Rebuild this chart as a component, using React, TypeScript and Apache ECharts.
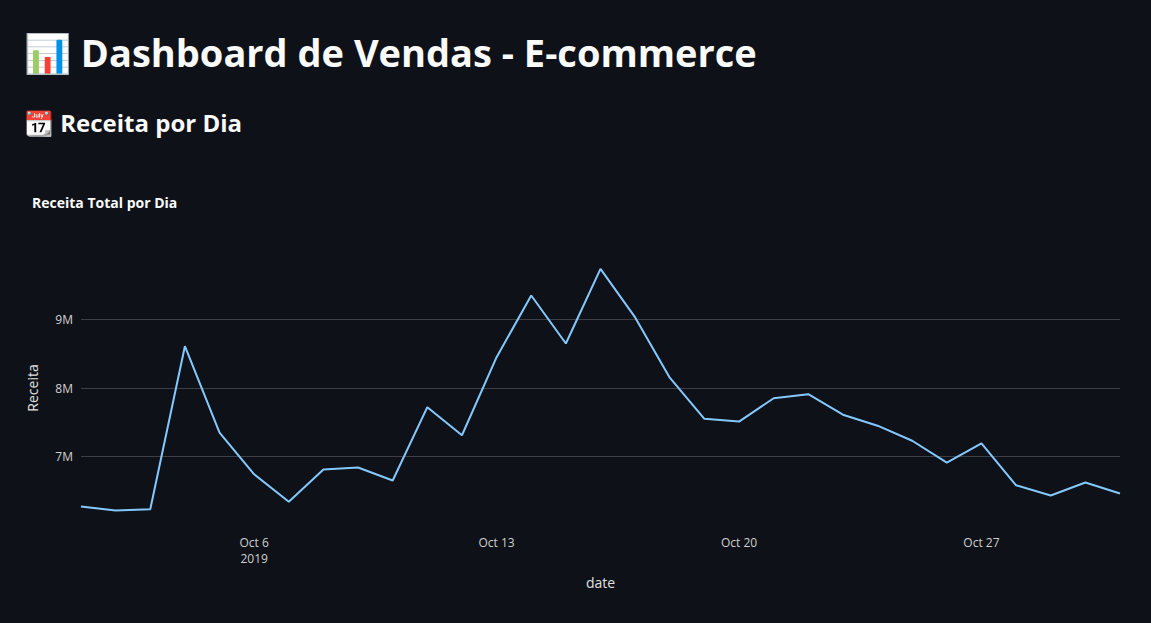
import React, { useEffect, useRef } from 'react';
import * as echarts from 'echarts';

const dates = Array.from({ length: 31 }, (_, i) => `2019-10-${String(i + 1).padStart(2, '0')}`);
const receita = [
  6.27, 6.21, 6.23, 8.61, 7.35, 6.74, 6.34, 6.81, 6.84, 6.65, 7.72, 7.31, 8.45, 9.35, 8.65, 9.74,
  9.03, 8.15, 7.55, 7.51, 7.85, 7.91, 7.61, 7.45, 7.23, 6.91, 7.19, 6.58, 6.43, 6.62, 6.46,
].map(v => v * 1e6);
const tickDays = [6, 13, 20, 27];

const FONT = '"Open Sans", "Noto Sans", sans-serif';

function RevenueChart() {
  const ref = useRef<HTMLDivElement>(null);

  useEffect(() => {
    if (!ref.current) return;
    const chart = echarts.init(ref.current, null, { renderer: 'svg' });
    const grid = 'rgba(250,250,250,0.2)';
    chart.setOption({
      animation: false,
      backgroundColor: 'transparent',
      textStyle: { fontFamily: FONT },
      title: {
        text: 'Receita Total por Dia',
        left: 27, top: 20,
        textStyle: { color: '#fafafa', fontSize: 14, fontWeight: 'bold', fontFamily: FONT },
      },
      grid: { left: 81, right: 31, top: 81, bottom: 98 },
      xAxis: {
        type: 'category',
        data: dates,
        boundaryGap: false,
        name: 'date',
        nameLocation: 'middle',
        nameGap: 50,
        nameTextStyle: { color: '#e0e0e0', fontSize: 14 },
        axisLine: { show: false },
        axisTick: { show: false },
        axisLabel: {
          color: '#d0d0d0', fontSize: 12, margin: 9, lineHeight: 16,
          interval: (i: number) => tickDays.includes(i + 1),
          formatter: (v: string) => {
            const d = Number(v.slice(8));
            return d === 6 ? `Oct ${d}\n2019` : `Oct ${d}`;
          },
        },
      },
      yAxis: {
        type: 'value',
        min: 6e6, max: 10e6, interval: 1e6,
        name: 'Receita',
        nameLocation: 'middle',
        nameGap: 42,
        nameTextStyle: { color: '#e0e0e0', fontSize: 14 },
        axisLine: { show: false },
        axisTick: { show: false },
        axisLabel: {
          color: '#d0d0d0', fontSize: 12, showMinLabel: false, showMaxLabel: false,
          formatter: (v: number) => `${v / 1e6}M`,
        },
        splitLine: { lineStyle: { color: ['transparent', grid, grid, grid, 'transparent'], width: 1 } },
      },
      series: [{
        type: 'line',
        data: receita,
        showSymbol: false,
        lineStyle: { color: '#83c9ff', width: 2 },
        itemStyle: { color: '#83c9ff' },
      }],
    });
    return () => chart.dispose();
  }, []);

  return <div ref={ref} style={{ position: 'absolute', left: 0, top: 170, width: 1151, height: 453 }} />;
}

export default function App() {
  return (
    <div style={{ position: 'fixed', left: 0, top: 0, width: 1151, height: 623, background: '#0e1117', color: '#fafafa', fontFamily: FONT, overflow: 'hidden' }}>
      <div style={{ position: 'absolute', left: 24, top: 22, fontSize: 38, fontWeight: 700, lineHeight: '60px', whiteSpace: 'nowrap' }}>
        📊 Dashboard de Vendas - E-commerce
      </div>
      <div style={{ position: 'absolute', left: 24, top: 103, fontSize: 24, fontWeight: 700, lineHeight: '40px', whiteSpace: 'nowrap' }}>
        📆 Receita por Dia
      </div>
      <RevenueChart />
    </div>
  );
}
